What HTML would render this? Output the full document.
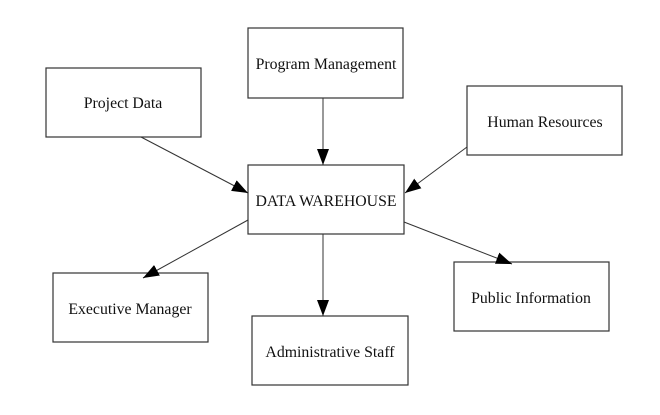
<!DOCTYPE html>
<html><head><style>
html,body{margin:0;padding:0;background:#fff;width:660px;height:415px;overflow:hidden}
svg text{font-family:"Liberation Serif",serif;font-size:15.8px;fill:#111}
</style></head><body>
<svg width="660" height="415" viewBox="0 0 660 415" xmlns="http://www.w3.org/2000/svg">
<defs>
<marker id="b" markerWidth="16" markerHeight="12" refX="16" refY="6" orient="auto" markerUnits="userSpaceOnUse"><path d="M0,0 L16,6 L0,12 z" fill="#000"/></marker></defs>
<g fill="#fff" stroke="#333" stroke-width="1.2">
<rect x="46" y="68" width="155" height="69"/>
<rect x="248" y="28" width="155" height="70"/>
<rect x="467" y="86" width="155" height="69"/>
<rect x="248" y="165" width="156" height="69"/>
<rect x="53" y="273" width="155" height="69"/>
<rect x="252" y="316" width="156" height="69"/>
<rect x="454" y="262" width="155" height="69"/>
</g>
<g stroke="#333" stroke-width="1" fill="none">
<line x1="141" y1="137" x2="248" y2="193" marker-end="url(#b)"/>
<line x1="323" y1="98" x2="323" y2="165" marker-end="url(#b)"/>
<line x1="467" y1="147" x2="405" y2="193" marker-end="url(#b)"/>
<line x1="248" y1="220" x2="143" y2="278" marker-end="url(#b)"/>
<line x1="323" y1="234" x2="323" y2="316" marker-end="url(#b)"/>
<line x1="404" y1="222" x2="512" y2="264" marker-end="url(#b)"/>
</g>
<g text-anchor="middle">
<text x="123" y="108">Project Data</text>
<text x="326" y="69">Program Management</text>
<text x="545" y="127">Human Resources</text>
<text x="326" y="206">DATA WAREHOUSE</text>
<text x="130" y="314">Executive Manager</text>
<text x="330" y="357">Administrative Staff</text>
<text x="531" y="303">Public Information</text>
</g>
</svg>
</body></html>
